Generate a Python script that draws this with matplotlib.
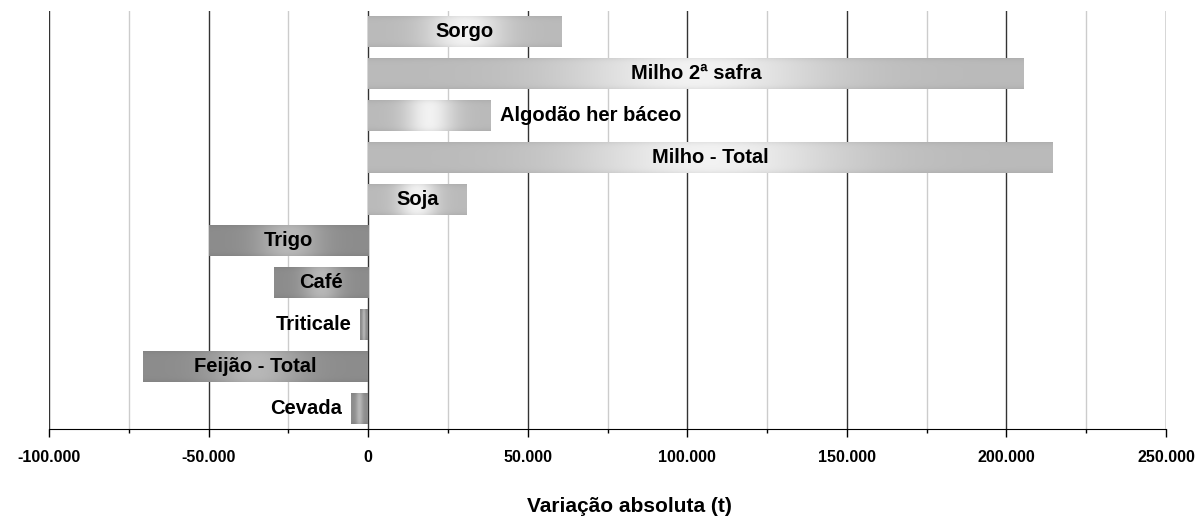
import numpy as np
import matplotlib
matplotlib.use("Agg")
import matplotlib.pyplot as plt
from matplotlib.patches import Rectangle
from matplotlib.ticker import MultipleLocator, FuncFormatter

# dados (de cima para baixo)
culturas = ["Sorgo", "Milho 2ª safra", "Algodão her báceo", "Milho - Total", "Soja",
            "Trigo", "Café", "Triticale", "Feijão - Total", "Cevada"]
variacao = [60500, 205500, 38500, 214500, 31000,
            -50000, -29500, -2500, -70500, -5300]

plt.rcParams["font.family"] = ["Liberation Sans", "DejaVu Sans"]
plt.rcParams["font.weight"] = "bold"

fig = plt.figure(figsize=(12.02, 5.21), dpi=100)
ax = fig.add_axes([49 / 1202, 92 / 521, (1166 - 49) / 1202, (429 - 11) / 521])

n = len(culturas)
ypos = np.arange(n)[::-1]
h = 0.74


def gradiente(positivo):
    nx, ny = 200, 40
    t = np.linspace(0, 1, nx)
    s = np.linspace(-1, 1, ny)
    if positivo:
        borda, pico = 0.73, 0.95
    else:
        borda, pico = 0.55, 0.72
    perfil = borda + (pico - borda) * np.exp(-((t - 0.5) / 0.2) ** 2)
    vert = 1 - 0.06 * np.abs(s) ** 6
    img = np.clip(np.outer(vert, perfil), 0, 1)
    return np.dstack([img, img, img])


for y, v in zip(ypos, variacao):
    x0, x1 = min(0, v), max(0, v)
    im = ax.imshow(gradiente(v > 0), extent=[x0, x1, y - h / 2, y + h / 2],
                   aspect="auto", interpolation="bilinear", zorder=3)
    r = Rectangle((x0, y - h / 2), x1 - x0, h, transform=ax.transData)
    im.set_clip_path(r)

ax.set_xlim(-100000, 250000)
ax.set_ylim(-0.5, n - 0.5)

ax.xaxis.set_major_locator(MultipleLocator(50000))
ax.xaxis.set_minor_locator(MultipleLocator(25000))
ax.xaxis.set_major_formatter(FuncFormatter(lambda v, p: f"{int(v):,}".replace(",", ".")))
ax.grid(True, which="major", axis="x", color="#333333", lw=1.0, zorder=1)
ax.grid(True, which="minor", axis="x", color="#cccccc", lw=1.0, zorder=1)
ax.set_yticks([])
ax.tick_params(axis="x", which="major", length=6, width=1, labelsize=11.5, pad=9)
ax.tick_params(axis="x", which="minor", length=3, width=1)
for sp in ["top", "left", "right"]:
    ax.spines[sp].set_visible(False)
ax.spines["bottom"].set_color("black")

# rótulos das barras
fig.canvas.draw()
rend = fig.canvas.get_renderer()
px = ax.transData.transform([[1000, 0]])[0][0] - ax.transData.transform([[0, 0]])[0][0]
pad = 9 / px * 1000
for y, v, nome in zip(ypos, variacao, culturas):
    t = ax.text(v / 2, y, nome, ha="center", va="center", fontsize=14.5,
                fontweight="bold", zorder=5)
    largura = t.get_window_extent(rend).width / px * 1000
    if largura > abs(v):
        if v > 0:
            t.set_x(v + pad)
            t.set_ha("left")
        else:
            t.set_x(v - pad)
            t.set_ha("right")

fig.text(629 / 1202, 1 - 507 / 521, "Variação absoluta (t)", ha="center", va="center",
         fontsize=15, fontweight="bold")

fig.savefig("out.png", dpi=100)
